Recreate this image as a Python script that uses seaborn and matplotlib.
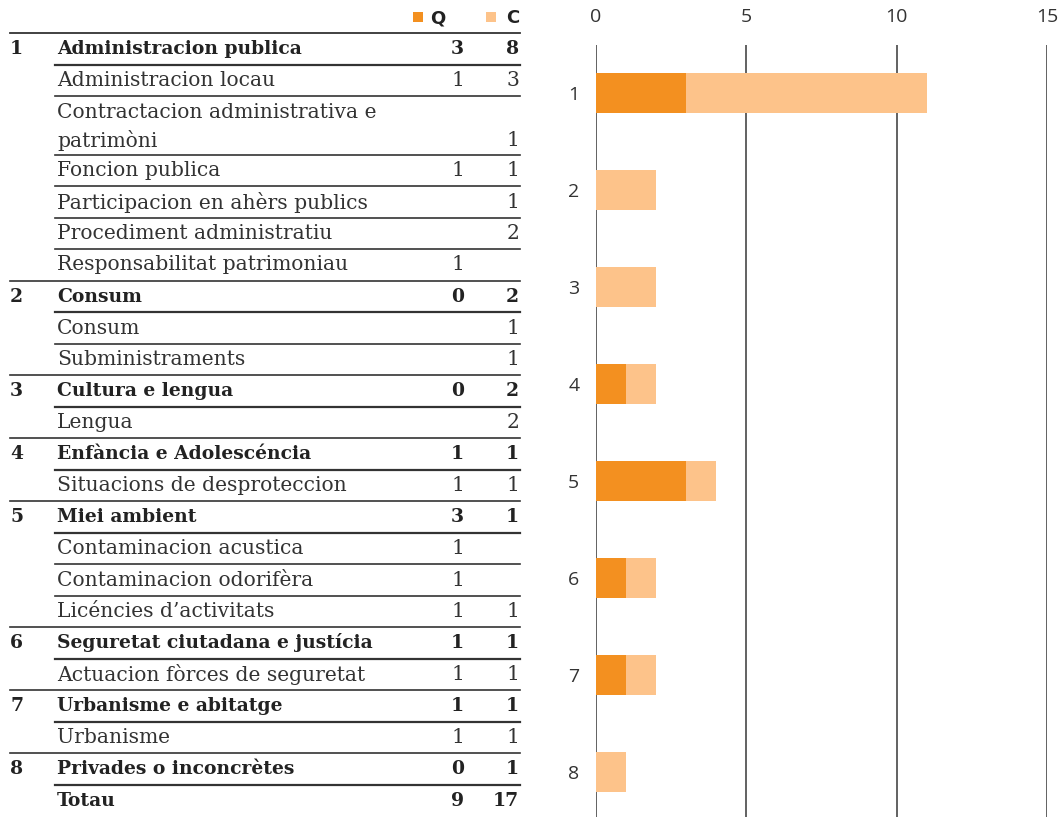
import matplotlib
matplotlib.use("Agg")
from matplotlib import pyplot as plt
import pandas as pd
import seaborn as sns

# table rows
row_nums = ["1", "", "", "", "", "", "", "2", "", "", "3", "", "4", "", "5", "", "", "", "6", "", "7", "", "8", ""]
row_labels = ["Administracion publica", "Administracion locau", "Contractacion administrativa e\npatrimòni",
              "Foncion publica", "Participacion en ahèrs publics", "Procediment administratiu",
              "Responsabilitat patrimoniau", "Consum", "Consum", "Subministraments", "Cultura e lengua",
              "Lengua", "Enfància e Adolescéncia", "Situacions de desproteccion", "Miei ambient",
              "Contaminacion acustica", "Contaminacion odorifèra", "Licéncies d’activitats",
              "Seguretat ciutadana e justícia", "Actuacion fòrces de seguretat", "Urbanisme e abitatge",
              "Urbanisme", "Privades o inconcrètes", "Totau"]
row_q = ["3", "1", "", "1", "", "", "1", "0", "", "", "0", "", "1", "1", "3", "1", "1", "1", "1", "1", "1", "1", "0", "9"]
row_c = ["8", "3", "1", "1", "1", "2", "", "2", "1", "1", "2", "2", "1", "1", "1", "", "", "1", "1", "1", "1", "1", "1", "17"]
row_bold = [True, False, False, False, False, False, False, True, False, False, True, False, True, False, True,
            False, False, False, True, False, True, False, True, True]

# bar chart
groups = ["1", "2", "3", "4", "5", "6", "7", "8"]
q_vals = [3, 0, 0, 1, 3, 1, 1, 0]
c_vals = [8, 2, 2, 1, 1, 1, 1, 1]

dark = "#F39020"
light = "#FDC38A"
ink = "#222222"
serif = ["DejaVu Serif"]

W, H = 1063, 817
fig = plt.figure(figsize=(W / 100, H / 100), dpi=100)

# table drawn in pixel coordinates
tab = fig.add_axes([0, 0, 1, 1])
tab.set_xlim(0, W)
tab.set_ylim(H, 0)
tab.axis("off")

# header legend
tab.add_patch(plt.Rectangle((413, 12), 10, 10, color=dark, lw=0))
tab.text(445, 18, "Q", ha="right", va="center", fontsize=13, fontweight="bold", color=ink, family="DejaVu Sans")
tab.add_patch(plt.Rectangle((486, 12), 10, 10, color=light, lw=0))
tab.text(519, 18, "C", ha="right", va="center", fontsize=13, fontweight="bold", color=ink, family="DejaVu Sans")
tab.plot([10, 520], [33, 33], color="#333333", lw=1.3)

top = 33
for i, label in enumerate(row_labels):
    lines = label.split("\n")
    bold = row_bold[i]
    wt = "bold" if bold else "normal"
    fs = 13.5 if bold else 14.6
    col = ink if bold else "#333333"
    for k, ln in enumerate(lines):
        tab.text(57, top + 16 + 28 * k, ln, ha="left", va="center", fontsize=fs, fontweight=wt,
                 color=col, family=serif)
    yv = top + 16 + 28 * (len(lines) - 1)
    tab.text(10, yv, row_nums[i], ha="left", va="center", fontsize=13.5, fontweight="bold", color=ink, family=serif)
    tab.text(464, yv, row_q[i], ha="right", va="center", fontsize=fs, fontweight=wt, color=col, family=serif)
    tab.text(519, yv, row_c[i], ha="right", va="center", fontsize=fs, fontweight=wt, color=col, family=serif)
    h = 31.5 + 27 * (len(lines) - 1)
    top += h
    if i < len(row_labels) - 1:
        x0 = 10 if row_nums[i + 1] else 55
        tab.plot([x0, 520], [top, top], color="#333333", lw=1.6 if bold else 1.2)

# stacked bars
df = pd.DataFrame({"grp": groups, "Q": q_vals, "C": c_vals})
df["tot"] = df["Q"] + df["C"]

ax = fig.add_axes([596 / W, 0, (1047 - 596) / W, 1 - 45 / H])
sns.barplot(data=df, x="tot", y="grp", color=light, width=0.41, saturation=1, ax=ax, orient="h")
sns.barplot(data=df, x="Q", y="grp", color=dark, width=0.41, saturation=1, ax=ax, orient="h")
ax.set_xlim(0, 15)
ax.set_ylim(7.464, -0.495)
ax.set_xticks([0, 5, 10, 15])
ax.xaxis.tick_top()
ax.tick_params(axis="x", length=0, pad=13.5, labelsize=14, labelcolor="#333333")
ax.tick_params(axis="y", length=0, pad=12, labelsize=14, labelcolor="#333333")
for lab in ax.get_xticklabels() + ax.get_yticklabels():
    lab.set_family("Open Sans")
ax.set_xlabel("")
ax.set_ylabel("")
for s in ax.spines.values():
    s.set_visible(False)
ax.set_axisbelow(True)
ax.grid(axis="x", color="#555555", lw=1.3)
ax.grid(axis="y", visible=False)
ax.patch.set_alpha(0)

fig.savefig("out.png", dpi=100)
